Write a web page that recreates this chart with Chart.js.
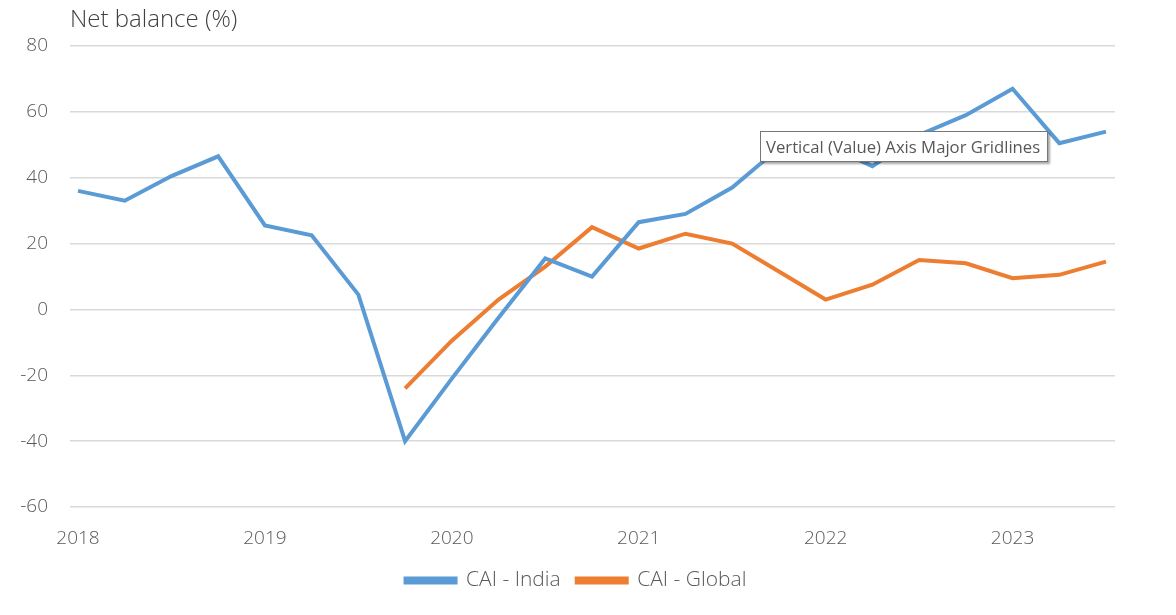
<!DOCTYPE html>
<html>
<head>
<meta charset="utf-8">
<script src="https://cdn.jsdelivr.net/npm/chart.js@4/dist/chart.umd.min.js"></script>
<style>
  body { margin: 0; background: #fff; }
  #wrap { position: relative; width: 1176px; height: 615px; }
  #tip {
    position: absolute; left: 760px; top: 131px; width: 288px; height: 31px;
    border: 1px solid #767676; background: #fff; box-shadow: 2px 2px 2px rgba(0,0,0,0.35);
    font-family: "Open Sans", sans-serif; font-size: 16.7px; color: #575757;
    line-height: 29px; padding-left: 5px; box-sizing: border-box; white-space: nowrap;
  }
</style>
</head>
<body>
<div id="wrap">
  <canvas id="chart" width="1176" height="615"></canvas>
  <div id="tip">Vertical (Value) Axis Major Gridlines</div>
</div>
<script>
// quarter positions (decimal years)
const quarters = [2018, 2018.25, 2018.5, 2018.75, 2019, 2019.25, 2019.5, 2019.75,
  2020, 2020.25, 2020.5, 2020.75, 2021, 2021.25, 2021.5, 2021.75,
  2022, 2022.25, 2022.5, 2022.75, 2023, 2023.25, 2023.5];
const indiaValues = [36, 33, 40.5, 46.5, 25.5, 22.5, 4.5, -40,
  -21, -2.5, 15.5, 10, 26.5, 29, 37, 49,
  50, 43.5, 53, 59, 67, 50.5, 54];
const globalValues = [null, null, null, null, null, null, null, -24,
  -9.5, 3, 13, 25, 18.5, 23, 20, 11.5,
  3, 7.5, 15, 14, 9.5, 10.5, 14.5];
const yearTicks = [2018, 2019, 2020, 2021, 2022, 2023];

const toPoints = vals => quarters.map((q, i) => ({ x: q, y: vals[i] }));

const yTitle = {
  id: 'yTitle',
  afterDraw(chart) {
    const c = chart.ctx;
    c.save();
    c.font = '300 24px "Open Sans"';
    c.fillStyle = '#404040';
    c.textBaseline = 'middle';
    c.fillText('Net balance (%)', chart.chartArea.left, 20);
    c.restore();
  }
};

new Chart(document.getElementById('chart'), {
  type: 'line',
  data: {
    datasets: [{
      label: 'CAI - India',
      data: toPoints(indiaValues),
      borderColor: '#5B9BD5',
      backgroundColor: '#5B9BD5',
      borderWidth: 4,
      pointRadius: 0,
      tension: 0
    }, {
      label: 'CAI - Global',
      data: toPoints(globalValues),
      borderColor: '#ED7D31',
      backgroundColor: '#ED7D31',
      borderWidth: 4,
      pointRadius: 0,
      tension: 0,
      spanGaps: false
    }]
  },
  options: {
    responsive: false,
    animation: false,
    layout: { padding: { top: 46, right: 24, left: 0, bottom: 14 } },
    plugins: {
      tooltip: { enabled: false },
      legend: {
        position: 'bottom',
        labels: {
          boxWidth: 50, boxHeight: 4, padding: 16,
          color: '#595959',
          font: { family: 'Open Sans', size: 21, weight: 300 }
        }
      }
    },
    scales: {
      x: {
        type: 'linear',
        min: 2018 - 8 / 187,
        max: 2023.5 + 9 / 187,
        afterBuildTicks: axis => { axis.ticks = yearTicks.map(v => ({ value: v })); },
        afterFit: axis => { axis.height = 47; },
        grid: { display: false },
        border: { display: false },
        ticks: {
          color: '#595959', padding: 12.6,
          font: { family: 'Open Sans', size: 19, weight: 300 },
          callback: v => String(v)
        }
      },
      y: {
        min: -60, max: 80,
        afterFit: axis => { axis.width = 70; },
        grid: { color: '#D9D9D9', lineWidth: 1.5, drawTicks: false },
        border: { display: false },
        ticks: {
          stepSize: 20, padding: 22, color: '#595959',
          font: { family: 'Open Sans', size: 19, weight: 300 }
        }
      },
      yRight: {
        position: 'right',
        afterFit: axis => { axis.width = 37; },
        grid: { display: false },
        border: { display: false },
        ticks: { display: false }
      }
    }
  },
  plugins: [yTitle]
});
</script>
</body>
</html>
